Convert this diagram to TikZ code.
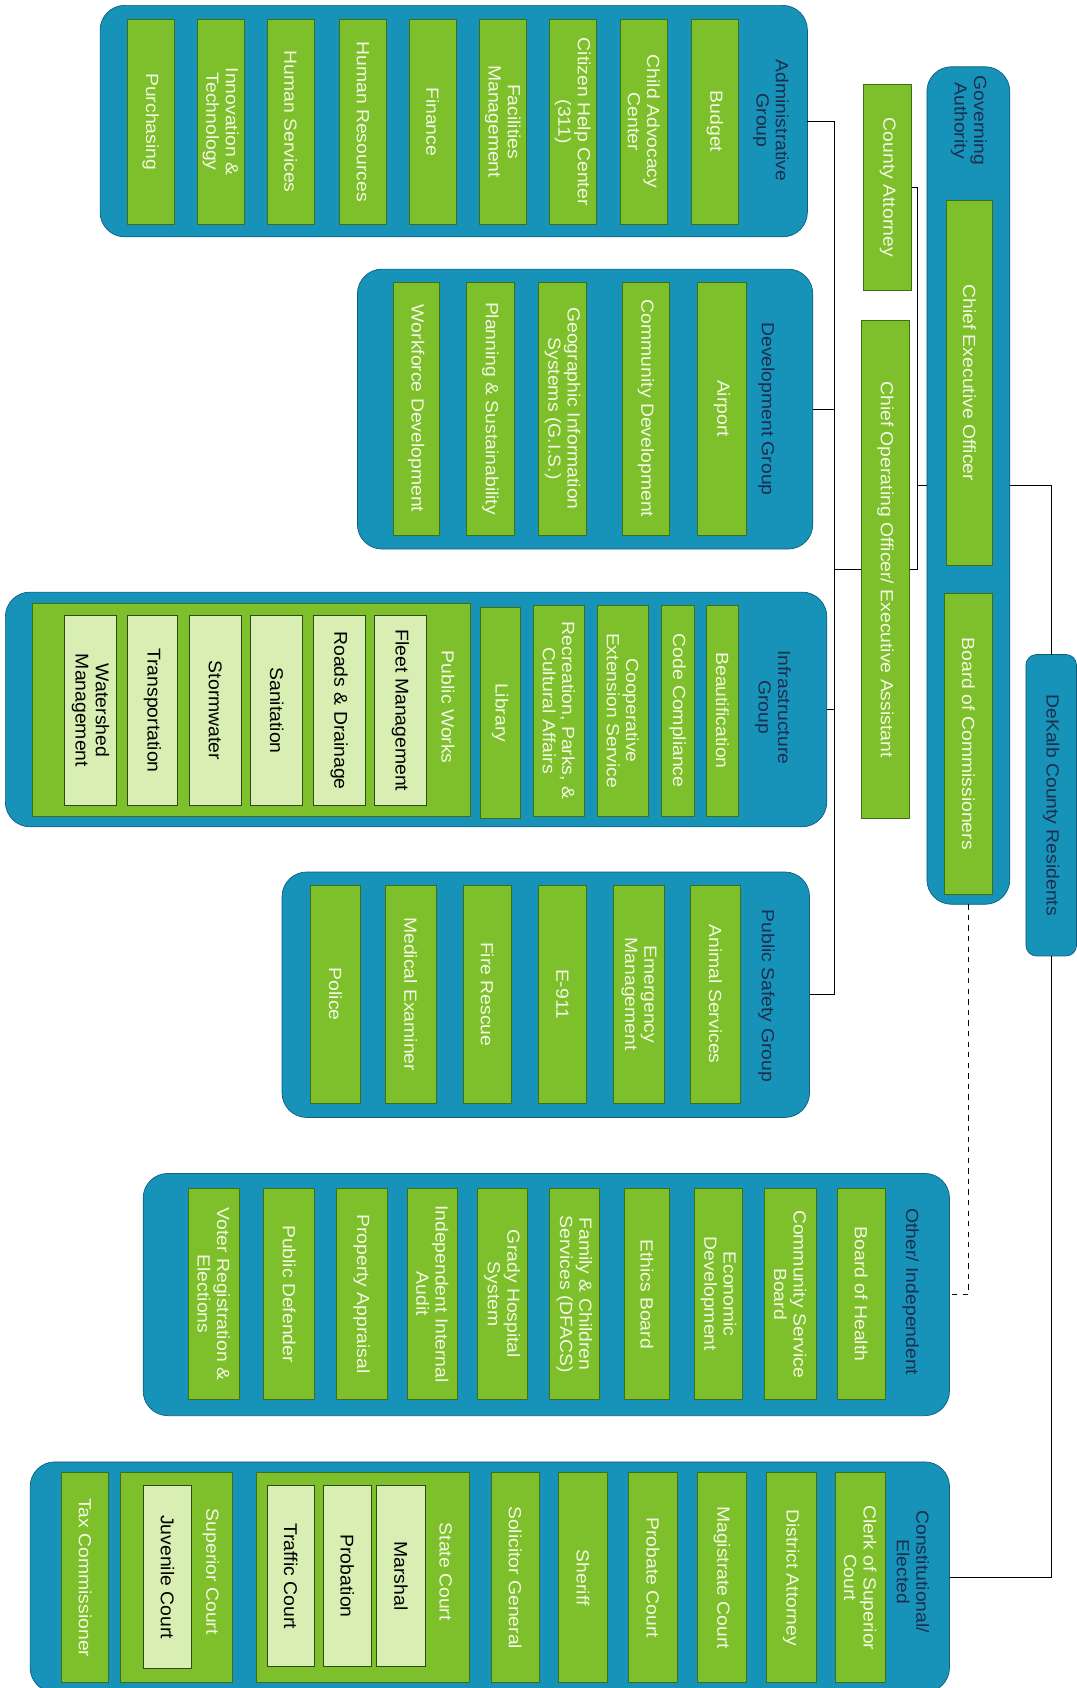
\documentclass[tikz,border=0pt]{standalone}
\usepackage{fontspec}
\setmainfont[FakeStretch=1.1]{Liberation Sans}
\newfontfamily\plainsans[FakeStretch=1.05]{Liberation Sans}
\usepackage{tikz}
\usepackage{xcolor}

\definecolor{grpblue}{HTML}{1792B8}
\definecolor{grpline}{HTML}{0E5E7E}
\definecolor{deptgreen}{HTML}{7DC02B}
\definecolor{deptline}{HTML}{3F6E14}
\definecolor{depttext}{HTML}{F4F9E4}
\definecolor{subgreen}{HTML}{D8EEB2}
\definecolor{subline}{HTML}{2F4A12}
\definecolor{navy}{HTML}{1C2D4F}

\begin{document}
\begin{tikzpicture}[x=0.0215cm, y=-0.0215cm,
    every node/.style={rotate=-90, align=center, inner sep=1pt, outer sep=0pt, font=\fontsize{10}{11}\selectfont},
    sz/.style 2 args={minimum width=#1*0.0215cm, minimum height=#2*0.0215cm},
    grp/.style={draw=grpline, fill=grpblue, rounded corners=14pt},
    dept/.style={draw=deptline, fill=deptgreen, text=depttext},
    sub/.style={draw=subline, fill=subgreen, text=black, font=\plainsans\fontsize{10.5}{11.5}\selectfont},
    lbl/.style={text=navy},
    link/.style={draw=black, line width=0.6pt}]
            \useasboundingbox (0,0) rectangle (1000,1568);

            % Governing authority
            \node[grp, sz={778}{77}] (gov) at (899.5,451) {};
            \node[lbl] (govlbl) at (900,112) {Governing\\Authority};
            \node[dept, sz={339}{43}] (ceo) at (900.5,355.5) {Chief Executive Officer};
            \node[dept, sz={280}{45}] (boc) at (899.5,691) {Board of Commissioners};
            \node[grp, rounded corners=6pt, sz={280}{47}, text=navy] (res) at (976.5,748) {DeKalb County Residents};

            % Staff
            \node[dept, sz={192}{45}] (ca) at (824.5,174) {County Attorney};
            \node[dept, sz={462}{45}] (coo) at (822.5,529) {Chief Operating Officer/ Executive Assistant};

            % Administrative group
            \node[grp, sz={215}{657}] (adm) at (421.5,112.5) {};
            \node[lbl] (admlbl) at (716,112) {Administrative\\Group};
            \node[dept, sz={190}{44}] (adm1) at (664,113) {Budget};
            \node[dept, sz={190}{44}] (adm2) at (598,113) {Child Advocacy\\Center};
            \node[dept, sz={190}{44}] (adm3) at (532,113) {Citizen Help Center\\(311)};
            \node[dept, sz={190}{44}] (adm4) at (467,113) {Facilities\\Management};
            \node[dept, sz={190}{44}] (adm5) at (402,113) {Finance};
            \node[dept, sz={190}{44}] (adm6) at (337,113) {Human Resources};
            \node[dept, sz={190}{44}] (adm7) at (270,113) {Human Services};
            \node[dept, sz={190}{44}] (adm8) at (205,113) {Innovation \&\\Technology};
            \node[dept, sz={190}{44}] (adm9) at (140,113) {Purchasing};

            % Development group
            \node[grp, sz={260}{423}] (dev) at (543.5,380) {};
            \node[lbl] (devlbl) at (712,380) {Development Group};
            \node[dept, sz={235}{45}] (dev1) at (670.5,379.5) {Airport};
            \node[dept, sz={235}{44}] (dev2) at (600,379.5) {Community Development};
            \node[dept, sz={235}{45}] (dev3) at (522.5,379.5) {Geographic Information\\Systems (G.I.S.)};
            \node[dept, sz={235}{45}] (dev4) at (455.5,379.5) {Planning \& Sustainability};
            \node[dept, sz={235}{43}] (dev5) at (386.5,379.5) {Workforce Development};

            % Infrastructure group
            \node[grp, sz={218}{763}] (inf) at (386.5,659) {};
            \node[lbl] (inflbl) at (718,657) {Infrastructure\\Group};
            \node[dept, sz={196}{30}] (inf1) at (671,660) {Beautification};
            \node[dept, sz={196}{31}] (inf2) at (629.5,660) {Code Compliance};
            \node[dept, sz={196}{47}] (inf3) at (578.5,660) {Cooperative\\Extension Service};
            \node[dept, sz={196}{48}] (inf4) at (519,660) {Recreation, Parks, \&\\Cultural Affairs};
            \node[dept, sz={196}{37}] (inf5) at (464.5,662) {Library};
            \node[dept, sz={198}{407}] (pw) at (233.5,659) {};
            \node[lbl, text=depttext] (pwlbl) at (416,657) {Public Works};
            \node[sub, sz={176}{48}] (pw1) at (372,660) {Fleet Management};
            \node[sub, sz={176}{48}] (pw2) at (315,660) {Roads \& Drainage};
            \node[sub, sz={176}{48}] (pw3) at (257,660) {Sanitation};
            \node[sub, sz={176}{48}] (pw4) at (200,660) {Stormwater};
            \node[sub, sz={176}{47}] (pw5) at (141.5,660) {Transportation};
            \node[sub, sz={176}{48}] (pw6) at (84,660) {Watershed\\Management};

            % Public safety group
            \node[grp, sz={228}{490}] (saf) at (507,924) {};
            \node[lbl] (saflbl) at (712,925) {Public Safety Group};
            \node[dept, sz={203}{47}] (saf1) at (664.5,923.5) {Animal Services};
            \node[dept, sz={203}{47}] (saf2) at (593.5,923.5) {Emergency\\Management};
            \node[dept, sz={203}{45}] (saf3) at (522.5,923.5) {E-911};
            \node[dept, sz={203}{45}] (saf4) at (452.5,923.5) {Fire Rescue};
            \node[dept, sz={203}{47}] (saf5) at (381.5,923.5) {Medical Examiner};
            \node[dept, sz={203}{47}] (saf6) at (311.5,923.5) {Police};

            % Other / independent
            \node[grp, sz={225}{749}] (oth) at (507.5,1202.5) {};
            \node[lbl] (othlbl) at (846,1200) {Other/ Independent};
            \node[dept, sz={196}{44}] (oth1) at (800,1202) {Board of Health};
            \node[dept, sz={196}{48}] (oth2) at (734,1202) {Community Service\\Board};
            \node[dept, sz={196}{45}] (oth3) at (667.5,1202) {Economic\\Development};
            \node[dept, sz={196}{42}] (oth4) at (601,1202) {Ethics Board};
            \node[dept, sz={196}{47}] (oth5) at (533.5,1202) {Family \& Children\\Services (DFACS)};
            \node[dept, sz={196}{47}] (oth6) at (466.5,1202) {Grady Hospital\\System};
            \node[dept, sz={196}{47}] (oth7) at (401.5,1202) {Independent Internal\\Audit};
            \node[dept, sz={196}{48}] (oth8) at (336,1202) {Property Appraisal};
            \node[dept, sz={196}{47}] (oth9) at (268.5,1202) {Public Defender};
            \node[dept, sz={196}{47}] (oth10) at (198.5,1202) {Voter Registration \&\\Elections};

            % Constitutional / elected
            \node[grp, sz={214}{854}] (con) at (455,1465) {};
            \node[lbl] (conlbl) at (848,1460) {Constitutional/\\Elected};
            \node[dept, sz={195}{46}] (con1) at (799,1465.5) {Clerk of Superior\\Court};
            \node[dept, sz={195}{46}] (con2) at (735,1465.5) {District Attorney};
            \node[dept, sz={195}{45}] (con3) at (670.5,1465.5) {Magistrate Court};
            \node[dept, sz={195}{45}] (con4) at (606.5,1465.5) {Probate Court};
            \node[dept, sz={195}{45}] (con5) at (541.5,1465.5) {Sheriff};
            \node[dept, sz={195}{45}] (con6) at (478.5,1465.5) {Solicitor General};
            \node[dept, sz={195}{198}] (stc) at (337,1465.5) {};
            \node[lbl, text=depttext] (stclbl) at (414,1460) {State Court};
            \node[sub, sz={168}{45}] (stc1) at (372.5,1464) {Marshal};
            \node[sub, sz={168}{45}] (stc2) at (322.5,1464) {Probation};
            \node[sub, sz={168}{44}] (stc3) at (270,1464) {Traffic Court};
            \node[dept, sz={195}{104}] (spc) at (164,1465.5) {};
            \node[lbl, text=depttext] (spclbl) at (196,1460) {Superior Court};
            \node[sub, sz={170}{45}] (spc1) at (155.5,1465) {Juvenile Court};
            \node[dept, sz={195}{44}] (con7) at (79,1465.5) {Tax Commissioner};

            % Edges
            \coordinate (bus) at (775,0);
            \coordinate (rbus) at (852,0);
            \draw[link] (adm.north) -- (adm.north -| bus) -- (saf.north -| bus) -- (saf.north);
            \draw[link] (dev.north) -- (dev.north -| bus);
            \draw[link] (inf.north) -- (inf.north -| bus);
            \draw[link] (coo.south) -- (coo.south -| bus);

            \draw[link] (ca.north) -- (ca.north -| rbus) -- (coo.north -| rbus) -- (coo.north);
            \draw[link] (gov.south) -- (gov.south -| rbus);

            \draw[link] (gov.north) -| (res.west);
            \draw[link] (res.east) |- (con.north);
            \draw[link, dashed] (gov.east) |- (oth.north);
        \end{tikzpicture}
\end{document}
